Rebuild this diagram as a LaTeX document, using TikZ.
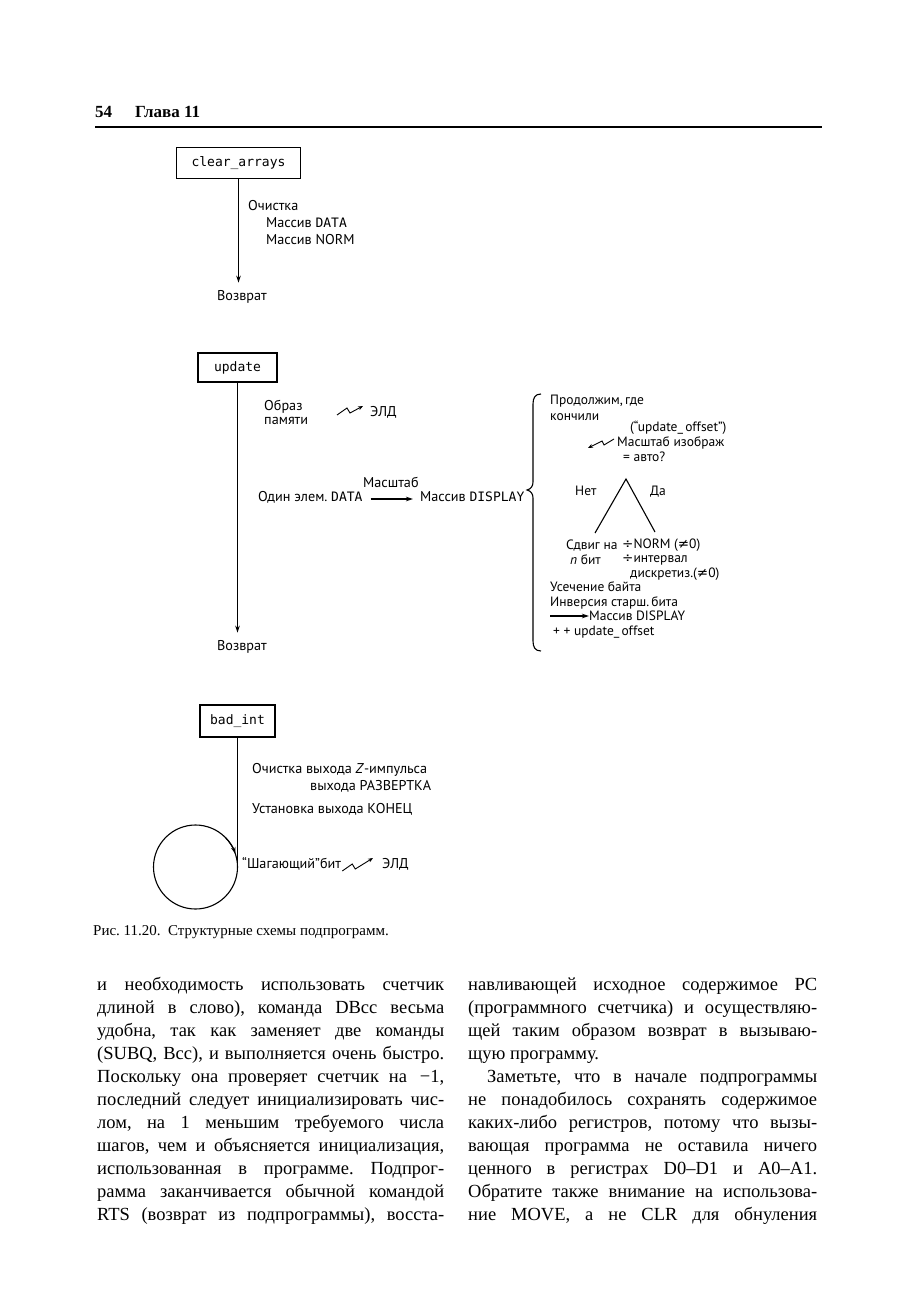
\documentclass[tikz,border=0pt]{standalone}
\usepackage{fontspec}
\setmainfont{Liberation Serif}
\newfontfamily\dg{PT Sans}
\newfontfamily\dgm{DejaVu Sans Mono}
\newfontfamily\dgs{DejaVu Sans}
\usetikzlibrary{arrows.meta}
\frenchspacing
\newcommand\jl[1]{\makebox[347pt][s]{#1}}
\newcommand\jr[1]{\makebox[349pt][s]{#1}}
\begin{document}
\begin{tikzpicture}[x=1pt,y=-1pt,
  lbl/.style={anchor=base west, inner sep=0pt, font=\dg\fontsize{14.2}{16}\selectfont},
  rb/.style={anchor=base west, inner sep=0pt, font=\dg\fontsize{13.5}{15}\selectfont},
  boxn/.style={draw, line width=1.4pt, inner sep=0pt, font=\dgm\fontsize{13}{15}\selectfont},
  flow/.style={line width=1.1pt, -{Stealth[length=7pt,width=4.5pt]}},
  plain/.style={line width=1.1pt},
  zig/.style={line width=0.9pt, -{Stealth[length=5pt,width=4pt]}},
  body/.style={anchor=base west, inner sep=0pt, font=\fontsize{18.5}{23}\selectfont},
]
\useasboundingbox[fill=white] (0,0) rectangle (912,1300);

% header
\node[anchor=base west, inner sep=0pt, font=\bfseries\fontsize{17}{20}\selectfont] (pg) at (95,118) {54};
\node[anchor=base west, inner sep=0pt, font=\bfseries\fontsize{17}{20}\selectfont] (ch) at (135,118) {Глава 11};
\draw[line width=1.6pt] (95,127) -- (822,127);

% clear_arrays
\node[boxn, minimum width=124pt, minimum height=31pt] (ca) at (238.5,163) {clear\_arrays};
\node[lbl] (c1) at (248,210) {Очистка};
\node[lbl] (c2) at (266,227) {Массив {\dgm\fontsize{13}{15}\selectfont DATA}};
\node[lbl] (c3) at (266,244) {Массив NORM};
\node[lbl] (r1) at (217,300) {Возврат};
\draw[flow] (ca.south) -- ([yshift=7pt]ca.south |- r1.north);

% update
\node[boxn, minimum width=79pt, minimum height=29pt] (up) at (237.5,367.5) {update};
\node[lbl] (u1) at (264,410) {Образ};
\node[lbl] (u2) at (264,424) {памяти};
\node[lbl] (u3) at (370,416) {ЭЛД};
\coordinate (z1) at (337,415);
\draw[zig] (z1) -- ++(10,-7) -- ++(3,5) -- ([xshift=-7pt,yshift=10pt]u3.base west);
\node[lbl] (d1) at (258,501) {Один элем. {\dgm\fontsize{13}{15}\selectfont DATA}};
\node[lbl] (d2) at (420,501) {Массив {\dgm\fontsize{13}{15}\selectfont DISPLAY}};
\node[lbl] (ms) at (363,487) {Масштаб};
\draw[flow] ([xshift=8pt,yshift=2pt]d1.base east) -- ([xshift=-7pt,yshift=2pt]d2.base west);
\node[lbl] (r2) at (217,650) {Возврат};
\draw[flow] (up.south) -- ([yshift=7pt]up.south |- r2.north);

% brace
\coordinate (bt) at (541,394);
\coordinate (bm) at (527,490);
\coordinate (bb) at (541,651);
\draw[plain] (bt) .. controls (535,394) and (533,398) .. (533,404) -- (533,482)
  .. controls (533,486) and (531,489) .. (bm)
  .. controls (531,491) and (533,494) .. (533,498) -- (533,641)
  .. controls (533,647) and (535,651) .. (bb);

% right block
\node[rb] (p1) at (550,404) {Продолжим,\,где};
\node[rb] (p2) at (550,420) {кончили};
\node[rb] (p3) at (630,431) {(“update\_\,offset”)};
\node[rb] (p4) at (617,446) {Масштаб изображ};
\node[rb] (p5) at (623,461) {= авто?};
\draw[zig] ([xshift=-3pt,yshift=7pt]p4.base west) -- ++(-10,6) -- ++(-2,-4) -- ++(-14,7);
\node[rb] (no) at (575,495) {Нет};
\node[rb] (yes) at (650,495) {Да};
\coordinate (apex) at (626,479);
\coordinate (tl) at (595,533);
\coordinate (tr) at (655,532);
\draw[plain] (tl) -- (apex) -- (tr);
\node[rb] (s1) at (566,549) {Сдвиг на};
\node[rb] (s2) at (570,564) {\textit{n} бит};
\node[rb] (n1) at (622,548) {{\dgs ÷}NORM ({\dgs ≠}0)};
\node[rb] (n2) at (622,562) {{\dgs ÷}интервал};
\node[rb] (n3) at (630,577) {дискретиз.({\dgs ≠}0)};
\node[rb] (t1) at (550,591) {Усечение байта};
\node[rb] (t2) at (550,606) {Инверсия старш.\,бита};
\node[rb] (t3) at (589,620) {Массив DISPLAY};
\coordinate (ta) at (550,616);
\draw[flow] (ta) -- ([yshift=4pt]t3.base west);
\node[rb] (t4) at (553,635) {+ + update\_\,offset};

% bad_int
\node[boxn, minimum width=75pt, minimum height=32pt] (bi) at (237.5,721) {bad\_int};
\node[lbl] (b1) at (252,773) {Очистка выхода \textit{Z}-импульса};
\node[lbl] (b2) at (310,790) {выхода РАЗВЕРТКА};
\node[lbl] (b3) at (252,813) {Установка выхода КОНЕЦ};
\node[lbl] (b4) at (242,868) {“Шагающий”бит};
\node[lbl] (b5) at (382,868) {ЭЛД};
\draw[zig] ([xshift=1pt,yshift=-3pt]b4.base east) -- ++(10,-7) -- ++(3,5) -- ([xshift=-9pt,yshift=10pt]b5.base west);
\coordinate (bc) at (195.5,867);
\draw[plain] (bi.south) -- (bi.south |- bc);
\draw[plain] (bc) circle[radius=42];
\draw[flow] (bc) ++(-45:42) arc[start angle=-45, end angle=-18, radius=42];

% caption
\node[anchor=base west, inner sep=0pt, font=\fontsize{15}{17}\selectfont] (cap) at (93,935) {Рис. 11.20.\ \ Структурные схемы подпрограмм.};

% body left
\node[body] (l1) at (97,990) {\jl{и необходимость использовать счетчик}};
\node[body] (l2) at (97,1013) {\jl{длиной в слово), команда DBcc весьма}};
\node[body] (l3) at (97,1036) {\jl{удобна, так как заменяет две команды}};
\node[body] (l4) at (97,1059) {\jl{(SUBQ, Bcc), и выполняется очень быстро.}};
\node[body] (l5) at (97,1082) {\jl{Поскольку она проверяет счетчик на \,−1,}};
\node[body] (l6) at (97,1105) {\jl{последний следует инициализировать чис-}};
\node[body] (l7) at (97,1128) {\jl{лом, на 1 меньшим требуемого числа}};
\node[body] (l8) at (97,1151) {\jl{шагов, чем и объясняется инициализация,}};
\node[body] (l9) at (97,1174) {\jl{использованная в программе. Подпрог-}};
\node[body] (l10) at (97,1197) {\jl{рамма заканчивается обычной командой}};
\node[body] (l11) at (97,1220) {\jl{RTS (возврат из подпрограммы), восста-}};

% body right
\node[body] (m1) at (468,990) {\jr{навливающей исходное содержимое PC}};
\node[body] (m2) at (468,1013) {\jr{(программного счетчика) и осуществляю-}};
\node[body] (m3) at (468,1036) {\jr{щей таким образом возврат в вызываю-}};
\node[body] (m4) at (468,1059) {щую программу.};
\node[body] (m5) at (487,1082) {\makebox[330pt][s]{Заметьте, что в начале подпрограммы}};
\node[body] (m6) at (468,1105) {\jr{не понадобилось сохранять содержимое}};
\node[body] (m7) at (468,1128) {\jr{каких-либо регистров, потому что вызы-}};
\node[body] (m8) at (468,1151) {\jr{вающая программа не оставила ничего}};
\node[body] (m9) at (468,1174) {\jr{ценного в регистрах D0–D1 и A0–A1.}};
\node[body] (m10) at (468,1197) {\jr{Обратите также внимание на использова-}};
\node[body] (m11) at (468,1220) {\jr{ние MOVE, а не CLR для обнуления}};
\end{tikzpicture}
\end{document}
